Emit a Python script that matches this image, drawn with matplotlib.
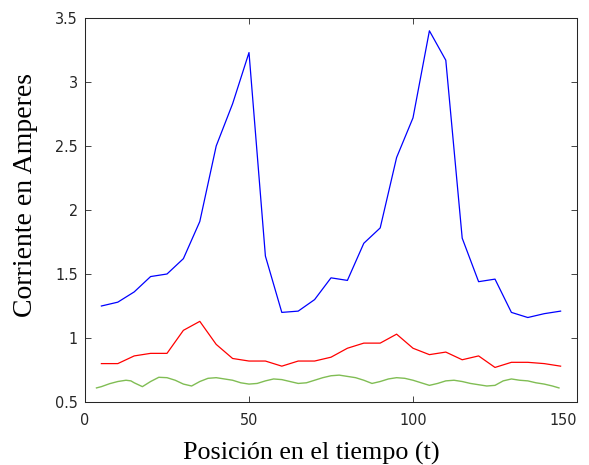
import matplotlib
matplotlib.use("Agg")
import matplotlib.pyplot as plt
from matplotlib import font_manager

t = [5, 10, 15, 20, 25, 30, 35, 40, 45, 50, 55, 60, 65, 70, 75, 80, 85, 90, 95,
     100, 105, 110, 115, 120, 125, 130, 135, 140, 145]
blue = [1.25, 1.28, 1.36, 1.48, 1.50, 1.62, 1.91, 2.50, 2.83, 3.23, 1.64, 1.20,
        1.21, 1.30, 1.47, 1.45, 1.74, 1.86, 2.41, 2.72, 3.40, 3.17, 1.78, 1.44,
        1.46, 1.20, 1.16, 1.19, 1.21]
red = [0.80, 0.80, 0.86, 0.88, 0.88, 1.06, 1.13, 0.95, 0.84, 0.82, 0.82, 0.78,
       0.82, 0.82, 0.85, 0.92, 0.96, 0.96, 1.03, 0.92, 0.87, 0.89, 0.83, 0.86,
       0.77, 0.81, 0.81, 0.80, 0.78]
t_green = [3.5, 5, 7.5, 10, 12.5, 14, 15, 17.5, 20, 22.5, 25, 27.5, 30, 32.5, 35,
           37.5, 40, 42.5, 45, 47.5, 50, 52.5, 55, 57.5, 60, 62.5, 65, 67.5, 70,
           72.5, 75, 77.5, 80, 82.5, 85, 87.5, 90, 92.5, 95, 97.5, 100, 102.5,
           105, 107.5, 110, 112.5, 115, 117.5, 120, 122.5, 125, 127.5, 130,
           132.5, 135, 137.5, 140, 142.5, 144.5]
green = [0.61, 0.62, 0.643, 0.66, 0.67, 0.665, 0.65, 0.62, 0.66, 0.693, 0.69,
         0.67, 0.64, 0.625, 0.66, 0.685, 0.69, 0.68, 0.67, 0.65, 0.64, 0.645,
         0.665, 0.68, 0.675, 0.66, 0.645, 0.65, 0.67, 0.69, 0.705, 0.71, 0.70,
         0.69, 0.67, 0.645, 0.66, 0.68, 0.69, 0.685, 0.67, 0.65, 0.63, 0.645,
         0.665, 0.67, 0.66, 0.645, 0.635, 0.625, 0.63, 0.665, 0.68, 0.67, 0.665,
         0.65, 0.64, 0.625, 0.61]

xticks = [0, 50, 100, 150]
yticks = [0.5, 1, 1.5, 2, 2.5, 3, 3.5]
xlabel = "Posición en el tiempo (t)"
ylabel = "Corriente en Amperes"

installed = {f.name for f in font_manager.fontManager.ttflist}
if "Liberation Sans Narrow" in installed:
    tick_family, tick_stretch, tick_size = "Liberation Sans Narrow", "normal", 12.5
else:
    tick_family, tick_stretch, tick_size = "DejaVu Sans", "condensed", 11.5

fig = plt.figure(figsize=(5.89, 4.65), dpi=100)
ax = fig.add_axes([85 / 589, 63 / 465, 492 / 589, 384 / 465])

ax.plot(t, blue, color=(0, 0, 1), lw=0.9)
ax.plot(t, red, color=(1, 0, 0), lw=0.9)
ax.plot(t_green, green, color=(0.5, 0.74, 0.33), lw=1.0)

ax.set_xlim(0, 150)
ax.set_ylim(0.5, 3.5)
ax.set_xticks(xticks)
ax.set_yticks(yticks)
ax.set_xticklabels([f"{v:g}" for v in xticks])
ax.set_yticklabels([f"{v:g}" for v in yticks])

tick_color = "#262626"
for s in ax.spines.values():
    s.set_color(tick_color)
    s.set_linewidth(0.75)
ax.tick_params(direction="in", length=4, width=0.6, color=tick_color,
               labelcolor=tick_color, top=True, right=True)
ax.tick_params(axis="x", pad=8)
ax.tick_params(axis="y", pad=5)
for lab in ax.get_xticklabels() + ax.get_yticklabels():
    lab.set_family(tick_family)
    lab.set_stretch(tick_stretch)
    lab.set_fontsize(tick_size)
# keep the last x label inside the figure, as in the reference
ax.get_xticklabels()[-1].set_horizontalalignment("right")

ax.set_xlabel(xlabel, family="Liberation Serif", fontsize=18.8, color="black")
ax.xaxis.set_label_coords(0.46, -0.104, transform=ax.transAxes)
ax.xaxis.label.set_verticalalignment("top")
ax.set_ylabel(ylabel, family="Liberation Serif", fontsize=20, color="black")
ax.yaxis.set_label_coords(-0.0955, 0.539, transform=ax.transAxes)

fig.savefig("out.png", dpi=100)
